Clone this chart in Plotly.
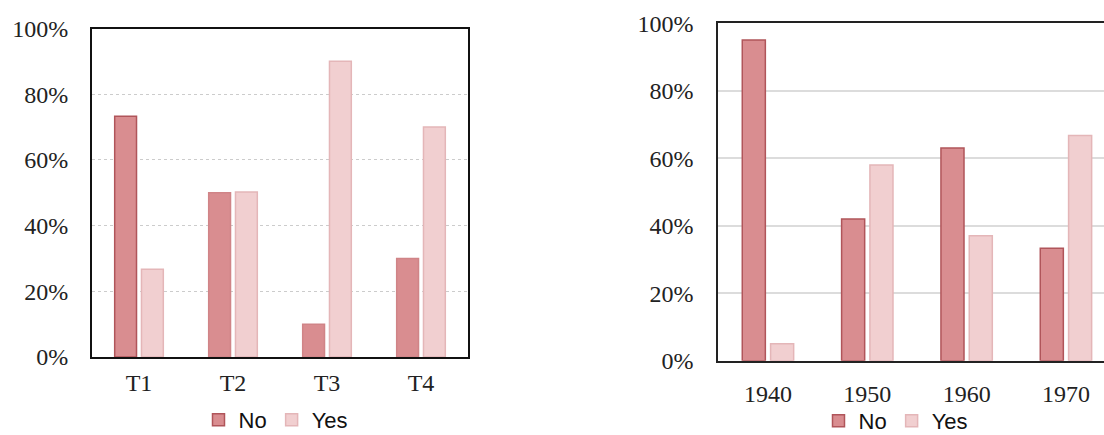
import plotly.graph_objects as go

# ---- data ----
left_categories = ["T1", "T2", "T3", "T4"]
left_no = [73.3, 50, 10, 30]
left_yes = [26.7, 50.2, 90, 70]

right_categories = ["1940", "1950", "1960", "1970"]
right_no = [95, 42, 63, 33.3]
right_yes = [5, 58, 37, 66.7]

y_ticks = [0, 20, 40, 60, 80, 100]
y_tick_labels = ["0%", "20%", "40%", "60%", "80%", "100%"]

NO_FILL = "#d98d90"
NO_LINE = "#b0555a"
YES_FILL = "#f1cfd0"
YES_LINE = "#e4b6b8"

fig = go.Figure()

fig.add_trace(go.Bar(x=left_categories, y=left_no, name="No",
                     marker=dict(color=NO_FILL,
                                 line=dict(color=[NO_LINE, "#d08487", "#d08487", "#d08487"], width=1.5)),
                     xaxis="x", yaxis="y", legend="legend"))
fig.add_trace(go.Bar(x=left_categories, y=left_yes, name="Yes",
                     marker=dict(color=YES_FILL, line=dict(color=YES_LINE, width=1.5)),
                     xaxis="x", yaxis="y", legend="legend"))

fig.add_trace(go.Bar(x=right_categories, y=right_no, name="No",
                     marker=dict(color=NO_FILL, line=dict(color=NO_LINE, width=1.5)),
                     xaxis="x2", yaxis="y2", legend="legend2"))
fig.add_trace(go.Bar(x=right_categories, y=right_yes, name="Yes",
                     marker=dict(color=YES_FILL, line=dict(color=YES_LINE, width=1.5)),
                     xaxis="x2", yaxis="y2", legend="legend2"))

tick_font = dict(family="Liberation Serif, Georgia, serif", size=24, color="#222222")
legend_font = dict(family="Liberation Sans, Arial, sans-serif", size=22, color="#111111")

W, H = 1104, 435

fig.update_layout(
    width=W, height=H,
    margin=dict(l=0, r=0, t=0, b=0, autoexpand=False),
    paper_bgcolor="white", plot_bgcolor="white",
    barmode="group", bargap=0.43, bargroupgap=0.185,
    xaxis=dict(domain=[92 / W, 468 / W], anchor="y", type="category",
               range=[-0.5, 3.5], showline=True, linecolor="#111111", linewidth=2,
               mirror=True, showgrid=False, ticks="", tickfont=tick_font,
               ticklabelstandoff=3, automargin=False),
    yaxis=dict(domain=[1 - 357 / H, 1 - 28.5 / H], anchor="x", range=[0, 100],
               tickvals=y_ticks, ticktext=y_tick_labels, showline=True,
               linecolor="#111111", linewidth=2, mirror=True, showgrid=True,
               gridcolor="#cccccc", gridwidth=1, griddash="dot", zeroline=False,
               ticks="", tickfont=tick_font, ticklabelstandoff=17, automargin=False),
    xaxis2=dict(domain=[718.3 / W, 1.0], anchor="y2", type="category",
                range=[-0.5, 3.383], showline=True, linecolor="#222222", linewidth=2,
                mirror=True, showgrid=False, ticks="", tickfont=tick_font,
                ticklabelstandoff=10, automargin=False),
    yaxis2=dict(domain=[1 - 360.7 / H, 1 - 23.2 / H], anchor="x2", range=[0, 100],
                tickvals=y_ticks, ticktext=y_tick_labels, showline=True,
                linecolor="#222222", linewidth=2, mirror=False, showgrid=True,
                gridcolor="#dcdcdc", gridwidth=1.5, zeroline=False,
                ticks="", tickfont=tick_font, ticklabelstandoff=18, automargin=False),
    legend=dict(orientation="h", x=276 / W, y=1 - 420 / H, xanchor="center",
                yanchor="middle", font=legend_font, itemwidth=30,
                bgcolor="rgba(0,0,0,0)"),
    legend2=dict(orientation="h", x=896 / W, y=1 - 421 / H, xanchor="center",
                 yanchor="middle", font=legend_font, itemwidth=30,
                 bgcolor="rgba(0,0,0,0)"),
)

fig.write_html(
    "out.html",
    config={"displayModeBar": False},
    post_script="document.body.style.margin='0';document.body.style.overflow='hidden';",
)
